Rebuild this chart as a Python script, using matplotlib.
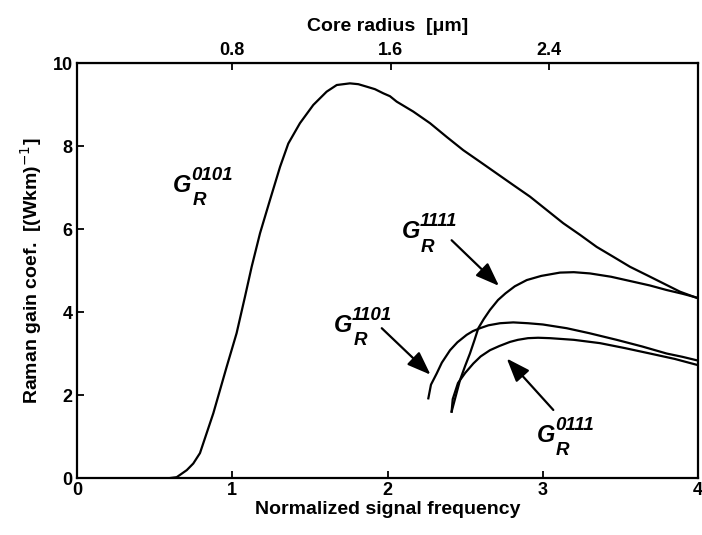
import numpy as np
import matplotlib
matplotlib.use("Agg")
import matplotlib.pyplot as plt

plt.rcParams['font.family'] = ['Liberation Sans', 'DejaVu Sans']

# ===== DATOS =====
# G_R^0101
v_0101 = [0.60, 0.642, 0.707, 0.749, 0.792, 0.835, 0.878, 0.921, 0.964, 1.028,
          1.082, 1.125, 1.179, 1.243, 1.308, 1.361, 1.436, 1.522, 1.608, 1.673,
          1.758, 1.812, 1.866, 1.919, 1.973, 2.016,
          2.059, 2.166, 2.274, 2.381, 2.488, 2.596, 2.703, 2.810, 2.918, 3.025,
          3.132, 3.240, 3.347, 3.455, 3.562, 3.670, 3.777, 3.884, 4.0]
g_0101 = [0.0, 0.02, 0.19, 0.35, 0.60, 1.08, 1.56, 2.12, 2.68, 3.49,
          4.37, 5.09, 5.90, 6.70, 7.50, 8.06, 8.55, 8.99, 9.31, 9.47,
          9.51, 9.49, 9.43, 9.37, 9.27, 9.20,
          9.07, 8.83, 8.55, 8.22, 7.90, 7.62, 7.34, 7.06, 6.78, 6.46,
          6.14, 5.86, 5.57, 5.33, 5.09, 4.89, 4.69, 4.49, 4.33]

# G_R^1101
v_1101 = [2.263, 2.28, 2.317, 2.35, 2.403, 2.45, 2.510, 2.55, 2.596, 2.65,
          2.725, 2.81, 2.905, 3.0, 3.154, 3.3, 3.476, 3.64, 3.798, 3.9, 4.0]
g_1101 = [1.92, 2.25, 2.52, 2.78, 3.08, 3.27, 3.45, 3.54, 3.61, 3.68,
          3.73, 3.75, 3.73, 3.70, 3.61, 3.49, 3.33, 3.17, 3.00, 2.92, 2.83]

# G_R^1111
v_1111 = [2.413, 2.44, 2.467, 2.50, 2.531, 2.56, 2.585, 2.62, 2.660, 2.712,
          2.76, 2.82, 2.897, 2.99, 3.111, 3.2, 3.304, 3.44, 3.583, 3.69,
          3.798, 3.9, 4.0]
g_1111 = [1.60, 1.98, 2.36, 2.70, 3.00, 3.32, 3.61, 3.83, 4.05, 4.29,
          4.45, 4.62, 4.77, 4.87, 4.95, 4.96, 4.93, 4.85, 4.73, 4.64,
          4.53, 4.44, 4.34]

# G_R^0111
v_0111 = [2.413, 2.42, 2.454, 2.50, 2.553, 2.60, 2.660, 2.72, 2.789, 2.84,
          2.905, 2.97, 3.047, 3.2, 3.369, 3.53, 3.691, 3.85, 4.0]
g_0111 = [1.60, 1.90, 2.29, 2.53, 2.76, 2.93, 3.08, 3.18, 3.28, 3.33,
          3.37, 3.38, 3.37, 3.33, 3.25, 3.13, 3.00, 2.87, 2.72]

x_ticks = [0, 1, 2, 3, 4]
y_ticks = [0, 2, 4, 6, 8, 10]
radius_ticks = [0.8, 1.6, 2.4]

# etiquetas: (x, y, superíndice)
labels = [(0.618, 6.90, '0101'),
          (2.091, 5.78, '1111'),
          (1.655, 3.53, '1101'),
          (2.961, 0.875, '0111')]

# flechas: (cola, punta)
arrows = [((2.413, 5.73), (2.718, 4.63)),
          ((1.963, 3.61), (2.277, 2.49)),
          ((3.068, 1.64), (2.768, 2.88))]

# ===== GRÁFICO =====
fig = plt.figure(figsize=(7.02, 5.35), dpi=100)
ax = fig.add_axes([0.1097, 0.1065, 0.8846, 0.7757])

for v, g in [(v_0101, g_0101), (v_1101, g_1101), (v_1111, g_1111), (v_0111, g_0111)]:
    ax.plot(v, g, color='black', lw=1.6, solid_joinstyle='round')

ax.set_xlim(0, 4)
ax.set_ylim(0, 10)
ax.set_xticks(x_ticks)
ax.set_yticks(y_ticks)
ax.tick_params(direction='in', length=5, width=1.3, labelsize=13, pad=3)
for lab in ax.get_xticklabels() + ax.get_yticklabels():
    lab.set_fontweight('bold')
for sp in ax.spines.values():
    sp.set_linewidth(1.6)

ax.set_xlabel('Normalized signal frequency', fontsize=14, fontweight='bold', labelpad=1)
ax.set_ylabel(r'Raman gain coef.  [(Wkm)$^{-1}$]', fontsize=14,
              fontweight='bold', labelpad=6)

top = ax.secondary_xaxis('top', functions=(lambda v: 0.784 * v + 0.016,
                                           lambda r: (r - 0.016) / 0.784))
top.set_xticks(radius_ticks)
top.set_xticklabels(['0.8', '1.6', '2.4'], fontweight='bold')
top.tick_params(direction='in', length=5, width=1.3, labelsize=13, pad=3)
top.set_xlabel('Core radius  [μm]', fontsize=14, fontweight='bold', labelpad=8)

for x, y, sup in labels:
    ax.text(x, y, 'G', fontsize=17, fontweight='bold', fontstyle='italic',
            ha='left', va='baseline')
    ax.annotate(sup, (x, y), xytext=(13.0, 8.4), textcoords='offset points',
                fontsize=13.5, fontweight='bold', fontstyle='italic',
                ha='left', va='baseline')
    ax.annotate('R', (x, y), xytext=(14.0, -9.8), textcoords='offset points',
                fontsize=13.5, fontweight='bold', fontstyle='italic',
                ha='left', va='baseline')

for tail, head in arrows:
    ax.annotate('', xy=head, xytext=tail,
                arrowprops=dict(arrowstyle='-|>,head_length=0.8,head_width=0.3',
                                lw=1.6, color='black', shrinkA=0, shrinkB=0,
                                mutation_scale=18))

fig.savefig('out.png', dpi=100)
